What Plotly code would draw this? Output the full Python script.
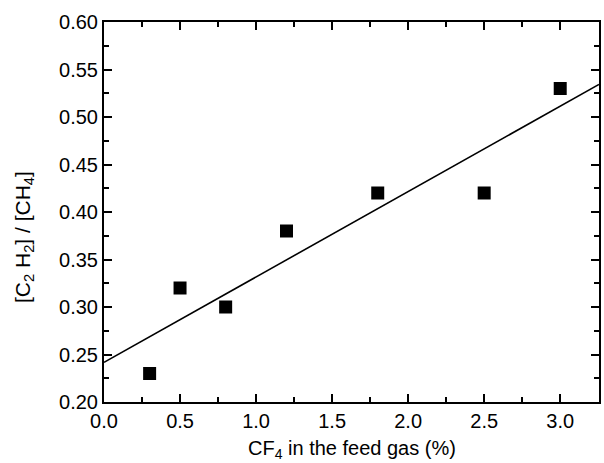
import numpy as np
import plotly.graph_objects as go

cf4_pct = [0.3, 0.5, 0.8, 1.2, 1.8, 2.5, 3.0]
ratio = [0.23, 0.32, 0.30, 0.38, 0.42, 0.42, 0.53]
x_range = [0.0, 3.255]
y_range = [0.20, 0.60]
x_title = "CF<sub>4</sub> in the feed gas (%)"
y_title = "[C<sub>2</sub> H<sub>2</sub>] / [CH<sub>4</sub>]"

slope, intercept = np.polyfit(cf4_pct, ratio, 1)
fit_x = np.array(x_range)
fit_y = intercept + slope * fit_x

font = dict(family="Liberation Sans, Arial, sans-serif", size=20, color="black")
ytitle_font = dict(family="Liberation Sans, Arial, sans-serif", size=21, color="black")

fig = go.Figure()
fig.add_trace(go.Scatter(x=fit_x, y=fit_y, mode="lines",
                         line=dict(color="black", width=1.6),
                         hoverinfo="skip", showlegend=False, cliponaxis=True))
fig.add_trace(go.Scatter(x=cf4_pct, y=ratio, mode="markers",
                         marker=dict(symbol="square", size=13, color="black"),
                         showlegend=False))

axis_common = dict(showgrid=False, zeroline=False, showline=True, linecolor="black",
                   linewidth=2, mirror="allticks", ticks="inside", ticklen=8,
                   tickwidth=1.5, tickcolor="black", tickfont=font)

fig.update_xaxes(range=x_range, dtick=0.5, tick0=0, tickformat=".1f",
                 minor=dict(dtick=0.25, ticks="inside", ticklen=5, tickwidth=1.5, tickcolor="black"),
                 **axis_common)
fig.update_yaxes(range=y_range, dtick=0.05, tick0=0, tickformat=".2f",
                 minor=dict(dtick=0.025, ticks="inside", ticklen=5, tickwidth=1.5, tickcolor="black"),
                 **axis_common)

fig.add_annotation(text=x_title, xref="paper", yref="paper", x=0.5, y=-0.125,
                   xanchor="center", yanchor="middle", showarrow=False, font=font)
fig.add_annotation(text=y_title, xref="paper", yref="paper", x=-0.163, y=0.435,
                   xanchor="center", yanchor="middle", textangle=-90, showarrow=False,
                   font=ytitle_font)

fig.update_layout(width=604, height=463, margin=dict(l=104, r=3, t=22, b=61),
                  plot_bgcolor="white", paper_bgcolor="white", font=font)

fig.write_html("out.html")
